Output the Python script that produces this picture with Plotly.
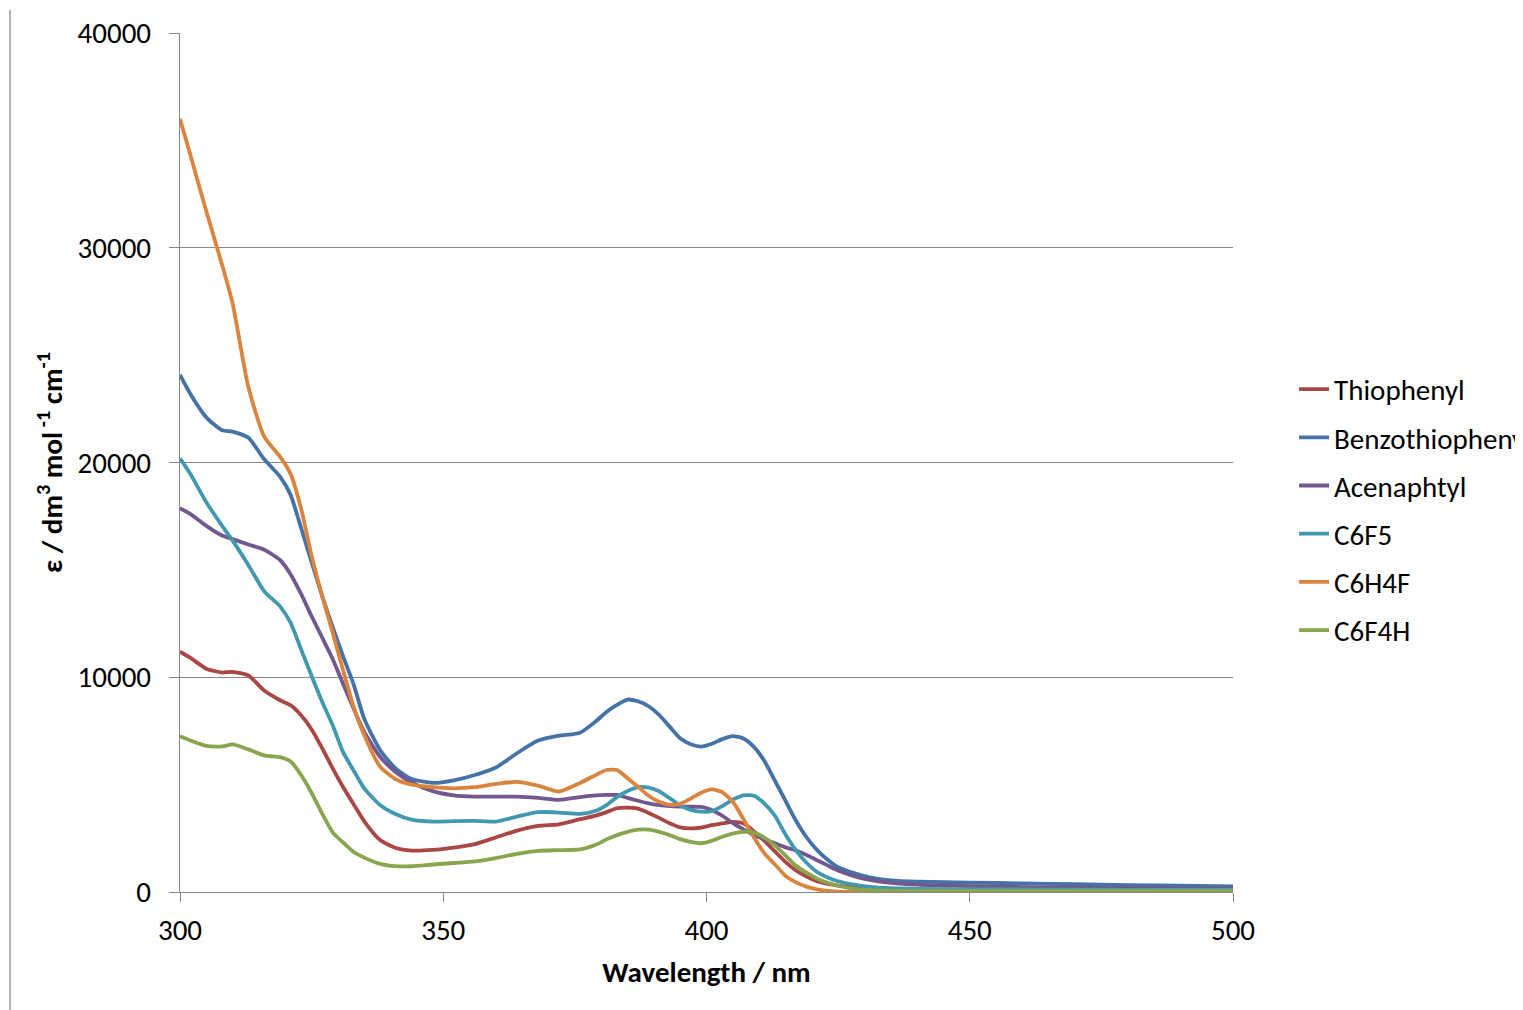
import plotly.graph_objects as go

wavelength = [300, 302, 305, 308, 310, 313, 316, 319, 321, 323, 325, 327, 329, 331, 333, 335,
              338, 341, 344, 348, 352, 356, 360, 364, 368, 372, 376, 379, 381, 383, 385, 387,
              389, 391, 393, 395, 397, 399, 401, 403, 405, 407, 409, 411, 413, 415, 417, 419,
              421, 423, 425, 428, 431, 435, 440, 450, 460, 470, 480, 490, 500]

thiophenyl = [11190, 10900, 10400, 10220, 10250, 10080, 9380, 8930, 8700, 8230, 7570, 6700, 5760, 4880, 4080, 3290,
              2420, 2050, 1930, 1960, 2070, 2230, 2540, 2860, 3080, 3150, 3390, 3560, 3720, 3900, 3930, 3880,
              3680, 3450, 3200, 3010, 2960, 3000, 3110, 3200, 3270, 3200, 2830, 2380, 1890, 1400, 1000, 720,
              500, 380, 300, 220, 160, 130, 110, 100, 90, 90, 80, 80, 80]

benzothiophenyl = [24080, 23180, 22100, 21500, 21440, 21150, 20150, 19340, 18500, 16950, 15360, 13790, 12330, 10960, 9650, 8060,
                   6610, 5740, 5260, 5080, 5200, 5450, 5800, 6460, 7050, 7280, 7420, 7950, 8380, 8710, 8960, 8880,
                   8650, 8250, 7700, 7160, 6880, 6770, 6900, 7120, 7260, 7150, 6760, 6100, 5180, 4250, 3320, 2550,
                   1950, 1500, 1150, 880, 680, 540, 480, 440, 400, 360, 320, 290, 260]

acenaphtyl = [17870, 17600, 17050, 16600, 16430, 16180, 15940, 15460, 14800, 13880, 12840, 11850, 10850, 9670, 8530, 7450,
              6300, 5580, 5100, 4700, 4500, 4440, 4440, 4440, 4380, 4290, 4420, 4500, 4520, 4520, 4380, 4250,
              4130, 4050, 4000, 3980, 3970, 3960, 3820, 3550, 3210, 2920, 2640, 2460, 2270, 2080, 1930, 1720,
              1480, 1240, 1000, 740, 570, 430, 340, 270, 230, 200, 180, 160, 150]

c6f5 = [20190, 19450, 18150, 17050, 16360, 15220, 14000, 13300, 12540, 11300, 10060, 8860, 7770, 6500, 5650, 4830,
        4050, 3620, 3370, 3280, 3300, 3310, 3280, 3510, 3720, 3700, 3640, 3780, 4050, 4420, 4700, 4880,
        4860, 4690, 4370, 4030, 3820, 3740, 3760, 4000, 4300, 4500, 4480, 4120, 3550, 2680, 1940, 1360,
        930, 680, 500, 340, 240, 180, 150, 130, 120, 110, 100, 100, 100]

c6h4f = [36000, 34300, 31700, 29200, 27400, 23500, 21200, 20270, 19470, 17860, 15650, 13780, 12080, 10300, 8600, 7300,
         5840, 5250, 5000, 4880, 4830, 4880, 5030, 5130, 4950, 4680, 5080, 5450, 5680, 5680, 5300, 4900,
         4480, 4200, 4060, 4100, 4350, 4620, 4780, 4650, 4200, 3400, 2550, 1800, 1280, 750, 450, 250,
         120, 50, 20, 10, 8, 6, 5, 5, 5, 5, 5, 5, 5]

c6f4h = [7250, 7050, 6800, 6780, 6870, 6640, 6360, 6280, 6080, 5450, 4610, 3650, 2780, 2300, 1860, 1600,
         1310, 1200, 1200, 1280, 1350, 1430, 1580, 1780, 1920, 1950, 1980, 2200, 2450, 2650, 2800, 2900,
         2900, 2800, 2650, 2460, 2330, 2270, 2380, 2570, 2720, 2800, 2780, 2530, 2170, 1700, 1220, 900,
         620, 430, 290, 150, 90, 60, 50, 50, 50, 50, 50, 50, 50]

series_names = ["Thiophenyl", "Benzothiophenyl", "Acenaphtyl", "C6F5", "C6H4F", "C6F4H"]
series_values = [thiophenyl, benzothiophenyl, acenaphtyl, c6f5, c6h4f, c6f4h]
series_colors = ["#AA4643", "#4572A7", "#71588F", "#4198AF", "#DB843D", "#89A54E"]

x_ticks = [300, 350, 400, 450, 500]
y_ticks = [0, 10000, 20000, 30000, 40000]

FONT = "Carlito, Lato, sans-serif"

fig = go.Figure()
for name, vals, col in zip(series_names, series_values, series_colors):
    fig.add_trace(go.Scatter(
        x=wavelength, y=vals, name=name, mode="lines", legendgroup=name,
        line=dict(color=col, width=3.8, shape="spline", smoothing=0.6),
    ))

fig.update_layout(
    width=1515, height=1002,
    margin=dict(l=172, r=290, t=25, b=118, autoexpand=False),
    paper_bgcolor="white", plot_bgcolor="white",
    font=dict(family=FONT, size=29, color="#000000"),
    showlegend=True,
    legend=dict(x=1.058, xanchor="left", y=0.445, yanchor="middle",
                font=dict(family=FONT, size=29, color="#000000"),
                tracegroupgap=7.5, itemwidth=30, bgcolor="rgba(0,0,0,0)"),
    xaxis=dict(range=[300, 500], tickvals=x_ticks, ticks="outside", ticklen=9,
               tickcolor="#868686", showline=True, linecolor="#868686", linewidth=1.3,
               showgrid=False, zeroline=False, ticklabelstandoff=3, automargin=False,
               tickfont=dict(family=FONT, size=29, color="#000000"),
               title=dict(text="<b>Wavelength / nm</b>", standoff=14,
                          font=dict(family=FONT, size=29, color="#000000"))),
    yaxis=dict(range=[0, 40000], tickvals=y_ticks, ticks="outside", ticklen=10,
               tickcolor="#868686", showline=True, linecolor="#868686", linewidth=1.3,
               showgrid=True, gridcolor="#868686", gridwidth=1.2, zeroline=False,
               tickformat="d", ticklabelstandoff=12, automargin=False,
               tickfont=dict(family=FONT, size=29, color="#000000"),
               title=dict(text="<b>ε / dm<sup>3</sup> mol<sup> -1</sup> cm<sup>-1</sup></b>", standoff=6,
                          font=dict(family=FONT, size=29, color="#000000"))),
    shapes=[dict(type="line", xref="paper", yref="paper",
                 x0=(10 - 180) / 1053, x1=(10 - 180) / 1053,
                 y0=(892 - 1010) / 859, y1=(892 - 10) / 859,
                 line=dict(color="#9a9a9a", width=1.5))],
)

fig.write_html("out.html")
